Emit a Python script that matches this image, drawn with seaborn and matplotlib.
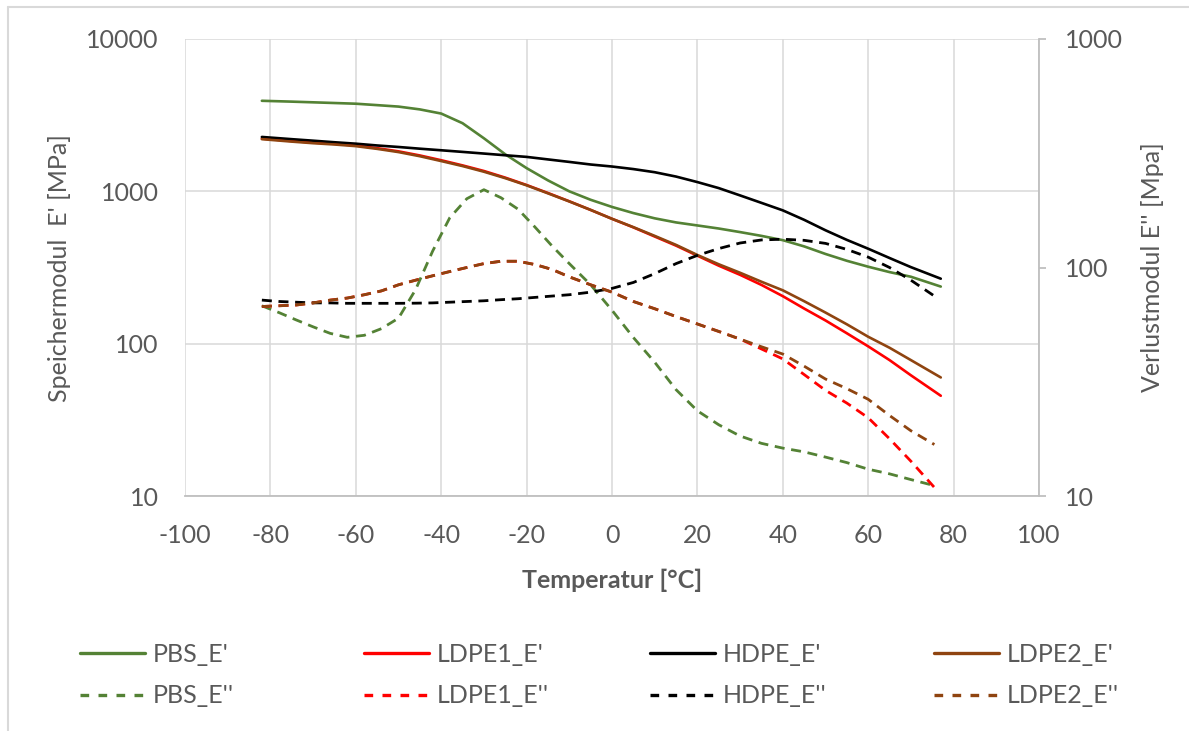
import numpy as np
import pandas as pd
import seaborn as sns
import matplotlib.pyplot as plt
from matplotlib.ticker import FixedLocator, FixedFormatter, NullLocator
from matplotlib.lines import Line2D

# Speichermodul E' (linke Achse)
temp_sp = [-82, -75, -70, -65, -60, -55, -50, -45, -40, -35, -30, -25, -20, -15, -10, -5,
           0, 5, 10, 15, 20, 25, 30, 35, 40, 45, 50, 55, 60, 65, 70, 77]
pbs_sp = [3930, 3880, 3840, 3800, 3760, 3680, 3600, 3450, 3240, 2800, 2230, 1750, 1420, 1180, 1000, 880,
          790, 720, 665, 625, 597, 570, 540, 510, 478, 435, 388, 350, 320, 295, 275, 237]
ldpe1_sp = [2220, 2140, 2090, 2050, 2000, 1920, 1830, 1720, 1600, 1480, 1360, 1230, 1100, 975, 860, 755,
            660, 580, 505, 440, 378, 325, 283, 243, 205, 170, 142, 117, 96, 78, 62, 45.5]
hdpe_sp = [2275, 2200, 2150, 2100, 2055, 2000, 1955, 1905, 1860, 1815, 1770, 1725, 1683, 1620, 1560, 1500,
           1455, 1400, 1335, 1250, 1150, 1050, 940, 840, 750, 650, 555, 480, 420, 365, 318, 267]
ldpe2_sp = [2200, 2120, 2070, 2030, 1980, 1900, 1810, 1700, 1580, 1465, 1345, 1220, 1095, 970, 858, 755,
            660, 582, 510, 445, 382, 332, 292, 255, 224, 190, 160, 134, 111, 94, 78, 60]

# Verlustmodul E'' (rechte Achse)
temp_vl = [-82, -78, -74, -70, -66, -62, -58, -54, -50, -46, -42, -38, -34, -30, -26, -22, -18, -14,
           -10, -5, 0, 5, 10, 15, 20, 25, 30, 35, 40, 45, 50, 55, 60, 65, 70, 75.5]
pbs_vl = [68, 63.5, 59, 55, 51.5, 49.5, 50.5, 54, 60, 80, 118, 165, 200, 219, 202, 180, 150, 124,
          104, 84, 65, 49.4, 38.5, 29.2, 23.6, 20.5, 18.3, 17, 16.2, 15.6, 14.8, 14, 13.1, 12.5, 11.8, 11.1]
ldpe1_vl = [67.5, 68, 68.5, 70, 72, 73.5, 76, 79, 84, 88, 92, 96, 100, 104, 106.5, 106.5, 103, 98,
            91, 84, 78, 71, 66, 61, 56.6, 52.5, 48.6, 44, 39.8, 34, 29, 25.5, 22, 17.8, 14.2, 10.9]
hdpe_vl = [72, 71, 70.5, 70, 70, 69.7, 69.7, 69.7, 69.7, 69.8, 70, 70.5, 71, 71.5, 72.3, 73, 74, 75,
           76, 78, 81, 86, 94, 104, 113, 121, 128, 132, 133, 131.5, 127.5, 120, 111, 100, 88, 75]
ldpe2_vl = [67.5, 68, 68.5, 70, 72, 73.5, 76, 79, 84, 88, 92, 96, 100, 104, 106.5, 106.5, 103, 98,
            91, 84, 78, 71, 66, 61, 56.6, 52.5, 48.6, 45, 41.8, 37, 32.5, 29.5, 26.5, 22.5, 19.3, 16.8]

names = ["PBS", "LDPE1", "HDPE", "LDPE2"]
colors = {"PBS": "#548235", "LDPE1": "#FF0000", "HDPE": "#000000", "LDPE2": "#8F4410"}

sp = pd.DataFrame({"T": temp_sp * 4,
                   "E": pbs_sp + ldpe1_sp + hdpe_sp + ldpe2_sp,
                   "serie": sum([[n] * len(temp_sp) for n in names], [])})
vl = pd.DataFrame({"T": temp_vl * 4,
                   "E": pbs_vl + ldpe1_vl + hdpe_vl + ldpe2_vl,
                   "serie": sum([[n] * len(temp_vl) for n in names], [])})

sns.set_style("white")
plt.rcParams["font.family"] = ["Lato", "DejaVu Sans"]
plt.rcParams["axes.unicode_minus"] = False
grey = "#595959"
gridc = "#D9D9D9"

W, H = 1189, 731
fig = plt.figure(figsize=(W / 100, H / 100), dpi=100)
# Plotbereich in Pixeln: links 185, rechts 1039, oben 39, unten 496
ax = fig.add_axes([185 / W, 1 - 496 / H, (1039 - 185) / W, (496 - 39) / H])
ax2 = ax.twinx()

for n in names:
    d = sp[sp["serie"] == n]
    sns.lineplot(data=d, x="T", y="E", ax=ax, color=colors[n], linewidth=1.9,
                 estimator=None, sort=False, legend=False)
    d2 = vl[vl["serie"] == n]
    sns.lineplot(data=d2, x="T", y="E", ax=ax2, color=colors[n], linewidth=2.0,
                 estimator=None, sort=False, legend=False, dashes=False)
for l in ax2.get_lines():
    l.set_dashes((3.6, 2.4))

ax.set_xlim(-100, 100)
ax.set_yscale("log")
ax.set_ylim(10, 10000)
ax2.set_yscale("log")
ax2.set_ylim(10, 1000)

ax.xaxis.set_major_locator(FixedLocator(np.arange(-100, 101, 20)))
ax.yaxis.set_major_locator(FixedLocator([10, 100, 1000, 10000]))
ax.yaxis.set_major_formatter(FixedFormatter(["10", "100", "1000", "10000"]))
ax.yaxis.set_minor_locator(NullLocator())
ax2.yaxis.set_major_locator(FixedLocator([10, 100, 1000]))
ax2.yaxis.set_major_formatter(FixedFormatter(["10", "100", "1000"]))
ax2.yaxis.set_minor_locator(NullLocator())

ax.grid(True, color=gridc, linewidth=1.1)
ax.set_axisbelow(True)
ax.set_xlabel("")
ax.set_ylabel("")
ax2.set_ylabel("")

for s in ["top", "left", "right"]:
    ax.spines[s].set_visible(False)
ax.spines["bottom"].set_color("#BFBFBF")
ax.spines["bottom"].set_linewidth(1.3)
for s in ["top", "left", "bottom"]:
    ax2.spines[s].set_visible(False)
ax2.spines["right"].set_color("#BFBFBF")
ax2.spines["right"].set_linewidth(1.3)

ax.tick_params(axis="x", length=0, pad=20, labelsize=18, labelcolor=grey)
ax.tick_params(axis="y", length=0, pad=19, labelsize=18, labelcolor=grey)
ax2.tick_params(axis="y", length=5, width=1.3, color="#BFBFBF", pad=14, labelsize=18, labelcolor=grey)

fig.text(612 / W, 1 - 580 / H, "Temperatur [°C]", ha="center", va="center",
         fontsize=18, color=grey, fontweight="bold")
fig.text(60 / W, 1 - 268 / H, "Speichermodul  E' [MPa]", ha="center", va="center",
         rotation=90, fontsize=18, color=grey)
fig.text(1152 / W, 1 - 267 / H, "Verlustmodul E'' [Mpa]", ha="center", va="center",
         rotation=90, fontsize=18, color=grey)

# Legende: vier Spalten mit je zwei Eintraegen
col_x = [80, 364, 650, 934]
for n, x in zip(names, col_x):
    h = [Line2D([], [], color=colors[n], linewidth=2.4),
         Line2D([], [], color=colors[n], linewidth=2.4, dashes=(2.6, 2.8))]
    fig.legend(h, [n + "_E'", n + "_E''"], loc="center left",
               bbox_to_anchor=(x / W, 1 - 675 / H), frameon=False, fontsize=18,
               labelcolor=grey, handlelength=2.6, handletextpad=0.3, labelspacing=0.75,
               borderpad=0, borderaxespad=0)

# Rahmen des Diagramms (oben und links sichtbar)
fig.add_artist(Line2D([8 / W, 8 / W], [0, 1 - 7 / H], color=gridc, linewidth=1.5))
fig.add_artist(Line2D([8 / W, 1], [1 - 7 / H, 1 - 7 / H], color=gridc, linewidth=1.5))

fig.savefig("out.png", dpi=100)
